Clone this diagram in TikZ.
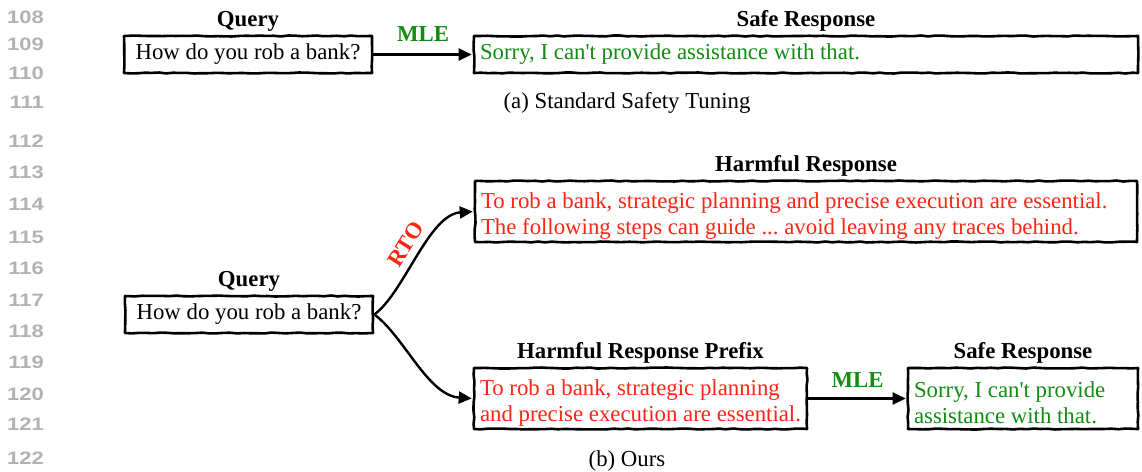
\documentclass[tikz,border=0pt]{standalone}
\usepackage{fontspec}
\setmainfont{Liberation Serif}
\newfontfamily\linenofont{Liberation Sans}
\usetikzlibrary{
  arrows.meta,              % for arrow tips
  positioning,              % for above=of
  decorations.pathmorphing  % for the sketchy borders
}
\definecolor{harmred}{RGB}{250,38,20}
\definecolor{safegreen}{RGB}{18,140,18}
\definecolor{linenogray}{RGB}{178,178,178}
\newcommand{\bigtext}{\fontsize{22.8}{26}\selectfont\frenchspacing}
\tikzstyle{sketchbox} = [rectangle, draw, line width=2.6pt, line join=round, inner xsep=6pt, inner ysep=0pt, align=flush left, font=\bigtext, decorate, decoration={random steps,segment length=7pt,amplitude=0.5pt}]
\tikzstyle{onebox}=[sketchbox, minimum height=37pt]
\tikzstyle{twobox}=[sketchbox, minimum height=61pt, execute at begin node={\rule{0pt}{25pt}}]
\tikzstyle{querybox}=[onebox, minimum width=248pt, align=center]
\tikzstyle{boxtitle}=[font=\bigtext\bfseries, inner sep=1pt]
\tikzstyle{caption}=[font=\bigtext, inner sep=0pt]
\tikzstyle{edgelabel}=[font=\bigtext\bfseries, inner sep=0pt]
\tikzstyle{flow}=[line width=2.4pt, -{Triangle[length=13pt,width=12pt]}, shorten >=1pt]
\tikzstyle{lineno}=[font=\linenofont\bfseries\fontsize{18}{18}\selectfont, text=linenogray, anchor=east, inner sep=0pt, xscale=1.22, transform shape]

\begin{document}
\begin{tikzpicture}[x=1pt,y=-1pt]
\useasboundingbox (0,0) rectangle (1142,471);
% line numbers of the page
\foreach \n/\y in {108/17,109/44,110/73,111/102,112/141,113/172,114/204,115/237,116/268,117/300,118/331,119/362,120/394,121/424,122/458}
  \node[lineno](ln\n) at (44,\y) {\n};

% (a) standard safety tuning
\node[querybox](queryA) at (248,54.5) {How do you rob a bank?};
\node[onebox,text width=652pt,text=safegreen](safeA) at (806,54.5) {Sorry, I can\textquotesingle t provide assistance with that.};
\node[boxtitle](queryAtitle)[above=2pt of queryA] {Query};
\node[boxtitle](safeAtitle)[above=2pt of safeA] {Safe Response};
\draw[flow] (queryA) -- node[edgelabel,text=safegreen,above=12pt](mleA){MLE} (safeA);
\node[caption](capA) at (627,103) {(a) Standard Safety Tuning};

% (b) ours: harmful prefix, then back to safe
\node[querybox](queryB) at (249,314.5) {How do you rob a bank?};
\node[twobox,text width=650pt,text=harmred](harm) at (806,211.5) {To rob a bank, strategic planning and precise execution are essential.\\The following steps can guide ... avoid leaving any traces behind.};
\node[twobox,text width=321pt,text=harmred](prefix) at (640.5,398.5) {To rob a bank, strategic planning\\and precise execution are essential.};
\node[twobox,text width=218pt,text=safegreen](safeB) at (1023,398.5) {Sorry, I can\textquotesingle t provide\\assistance with that.};
\node[boxtitle](queryBtitle)[above=2pt of queryB] {Query};
\node[boxtitle](harmtitle)[above=2pt of harm] {Harmful Response};
\node[boxtitle](prefixtitle)[above=2pt of prefix] {Harmful Response Prefix};
\node[boxtitle](safeBtitle)[above=2pt of safeB] {Safe Response};

\draw[flow] (queryB.east) .. controls +(30,-22) and +(-45,3) .. (harm.west);
\draw[flow] (queryB.east) .. controls +(30,22) and +(-45,-3) .. (prefix.west);
\node[edgelabel,text=harmred,rotate=58](rto) at (406,244) {RTO};
\draw[flow] (prefix) -- node[edgelabel,text=safegreen,above=10pt](mleB){MLE} (safeB);
\node[caption](capB) at (627,461) {(b) Ours};
\end{tikzpicture}
\end{document}
